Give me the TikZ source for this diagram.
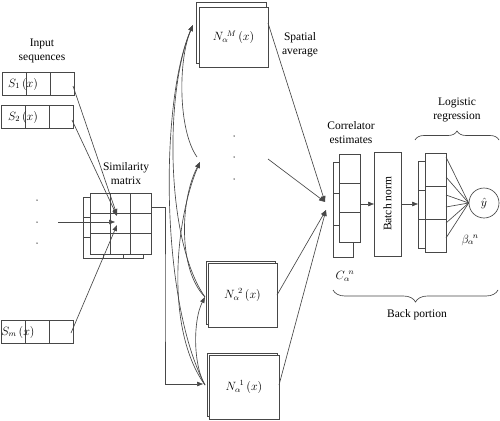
\documentclass[tikz,border=0pt]{standalone}
\usepackage{fontspec}
\setmainfont{Liberation Serif}
\usetikzlibrary{arrows.meta,decorations.pathreplacing}
\begin{document}
\begin{tikzpicture}[x=1pt,y=-1pt,
  ln/.style={draw=black!72,line width=0.65pt},
  arr/.style={ln,-{Triangle[length=6pt,width=4.5pt]}},
  sheet/.style={ln,fill=white,inner sep=0pt,outer sep=0pt,anchor=north west},
  txt/.style={font=\fontsize{11.5}{14}\selectfont,align=center,inner sep=0pt},
  dot/.style={circle,fill=black!75,inner sep=0pt,minimum size=1.5pt},
  brc/.style={ln,decorate,decoration={brace,amplitude=#1}}]
\useasboundingbox (0,0) rectangle (500,420);

% ---------- input sequences ----------
\node[txt] (tin) at (42,51) {Input\\sequences};
\node[sheet,minimum width=72pt,minimum height=23pt] (s1) at (2,72) {};
\node[sheet,minimum width=72pt,minimum height=23pt] (s2) at (1,105) {};
\node[sheet,minimum width=72pt,minimum height=23pt] (sm) at (1,320) {};
\foreach \b in {s1,s2,sm}{
  \foreach \d in {24,48}
    \draw[ln] ([xshift=\d pt]\b.north west) -- ([xshift=\d pt]\b.south west);
}
\node[txt] (s1t) at (23,84) {$S_1\,(x)$};
\node[txt] (s2t) at (23,117) {$S_2\,(x)$};
\node[txt] (smt) at (18,332) {$S_m\,(x)$};
\node[dot] (ld1) at (37,200) {};
\node[dot] (ld2) at (37,222) {};
\node[dot] (ld3) at (37,243) {};

% ---------- similarity matrix ----------
\node[sheet,minimum width=60pt,minimum height=61pt] (simb) at (83,197) {};
\foreach \d in {20.3,40.6}
  \draw[ln] ([yshift=-\d pt]simb.north west) -- ([yshift=-\d pt]simb.north east);
\foreach \d in {20,40}
  \draw[ln] ([xshift=\d pt]simb.north west) -- ([xshift=\d pt]simb.south west);
\node[sheet,minimum width=61pt,minimum height=61pt] (simf) at (90,193) {};
\foreach \d in {20.3,40.6}
  \draw[ln] ([yshift=-\d pt]simf.north west) -- ([yshift=-\d pt]simf.north east);
\foreach \d in {20.3,40.6}
  \draw[ln] ([xshift=\d pt]simf.north west) -- ([xshift=\d pt]simf.south west);
\node[txt] (simt) at (126,174) {Similarity\\matrix};

\coordinate (s1o) at (73,86);
\coordinate (s2o) at (72,120);
\coordinate (hin) at (58,222);
\coordinate (smo) at (71,333);
\coordinate (a1) at (117,215);
\coordinate (a2) at (117,216);
\coordinate (a3) at (115,222);
\coordinate (a4) at (117,225);
\draw[arr] (s1o) -- (a1);
\draw[arr] (s2o) -- (a2);
\draw[arr] (hin) -- (a3);
\draw[arr] (smo) -- (a4);

% ---------- N boxes ----------
\node[sheet,minimum width=70pt,minimum height=61pt] (nmb) at (196,2) {};
\node[sheet,minimum width=69pt,minimum height=60pt] (nmf) at (199,7) {};
\node[txt] (nmt) at (nmf.center) {$N_{\alpha}{}^{\!M}\,(x)$};
\node[sheet,minimum width=69pt,minimum height=63pt] (n2b) at (206,261) {};
\node[sheet,minimum width=69pt,minimum height=64pt] (n2f) at (208,263) {};
\node[txt] (n2t) at (n2f.center) {$N_{\alpha}{}^{\!2}\,(x)$};
\node[sheet,minimum width=70pt,minimum height=63pt] (n1b) at (207,353) {};
\node[sheet,minimum width=70pt,minimum height=64pt] (n1f) at (209,355) {};
\node[txt] (n1t) at (n1f.center) {$N_{\alpha}{}^{\!1}\,(x)$};
\node[dot] (md1) at (234,136) {};
\node[dot] (md2) at (234,157) {};
\node[dot] (md3) at (234,179) {};

% similarity matrix -> N1
\coordinate (simo) at (151,207);
\coordinate (bend) at (165,300);
\coordinate (n1in) at (203,384);
\draw[arr] (simo) -| (bend) |- (n1in);

% dense connections
\coordinate (p1) at (205,385);
\coordinate (p2) at (205,297);
\coordinate (p3) at (200,162);
\coordinate (p3s) at (197,157);
\coordinate (p4) at (193,25);
\draw[arr] (p1) .. controls (160,300) and (160,100) .. (p4);
\draw[arr] (p1) .. controls (165,330) and (175,220) .. (p3);
\draw[arr] (p2) .. controls (165,240) and (165,90) .. (p4);
\draw[arr] (p2) .. controls (178,270) and (180,200) .. (p3);
\draw[arr] (p3s) .. controls (178,130) and (178,60) .. (p4);
\draw[arr] (p1) .. controls (193,365) and (193,320) .. (p2);

\node[txt] (spt) at (300,45) {Spatial\\average};

% ---------- to correlator ----------
\coordinate (nmo) at (268,23);
\coordinate (mido) at (268,159);
\coordinate (n2o) at (277,295);
\coordinate (n1o) at (279,385);
\coordinate (ca) at (325,202);
\coordinate (cb) at (326,210);
\draw[arr] (nmo) -- (ca);
\draw[arr] (mido) -- (ca);
\draw[arr] (n2o) -- (cb);
\draw[arr] (n1o) -- (cb);

% ---------- correlator ----------
\node[sheet,minimum width=20pt,minimum height=95pt] (cob) at (333,162) {};
\foreach \d in {31.7,63.3}
  \draw[ln] ([yshift=-\d pt]cob.north west) -- ([yshift=-\d pt]cob.north east);
\node[sheet,minimum width=21pt,minimum height=88pt] (cof) at (339,154) {};
\foreach \d in {29.3,58.7}
  \draw[ln] ([yshift=-\d pt]cof.north west) -- ([yshift=-\d pt]cof.north east);
\node[txt] (cot) at (351,133) {Correlator\\estimates};
\node[txt] (cat) at (345,276) {$C_{\alpha}{}^{\!n}$};

% ---------- batch norm ----------
\node[sheet,minimum width=27pt,minimum height=104pt] (bn) at (374,152) {};
\node[txt,rotate=90] (bnt) at (bn.center) {Batch norm};
\draw[arr] (cof.east |- bn.west) -- (bn.west);

% ---------- logistic regression ----------
\node[sheet,minimum width=21pt,minimum height=87pt] (lgb) at (418,161) {};
\foreach \d in {29,58}
  \draw[ln] ([yshift=-\d pt]lgb.north west) -- ([yshift=-\d pt]lgb.north east);
\node[sheet,minimum width=21pt,minimum height=99pt] (lgf) at (425,153) {};
\foreach \d in {33,66}
  \draw[ln] ([yshift=-\d pt]lgf.north west) -- ([yshift=-\d pt]lgf.north east);
\draw[arr] (bn.east) -- (lgb.west |- bn.east);
\node[ln,circle,minimum size=30pt,inner sep=0pt] (yh) at (484,203) {};
\node[txt] (yht) at (484,203) {$\hat{y}$};
\foreach \d in {4,24,42,54,70,85}
  \draw[ln] ([yshift=-\d pt]lgf.north east) -- (yh.west);
\node[txt] (bet) at (470,240) {$\beta_{\alpha}{}^{\!n}$};
\node[txt] (lgt) at (457,110) {Logistic\\regression};

% ---------- braces ----------
\coordinate (lbl) at (415,140);
\coordinate (lbr) at (499,140);
\draw[brc=9pt] (lbl) -- (lbr);
\coordinate (bbr) at (498,290);
\coordinate (bbl) at (333,290);
\draw[brc=12pt] (bbr) -- (bbl);
\node[txt] (bpt) at (417,315) {Back portion};
\end{tikzpicture}
\end{document}
